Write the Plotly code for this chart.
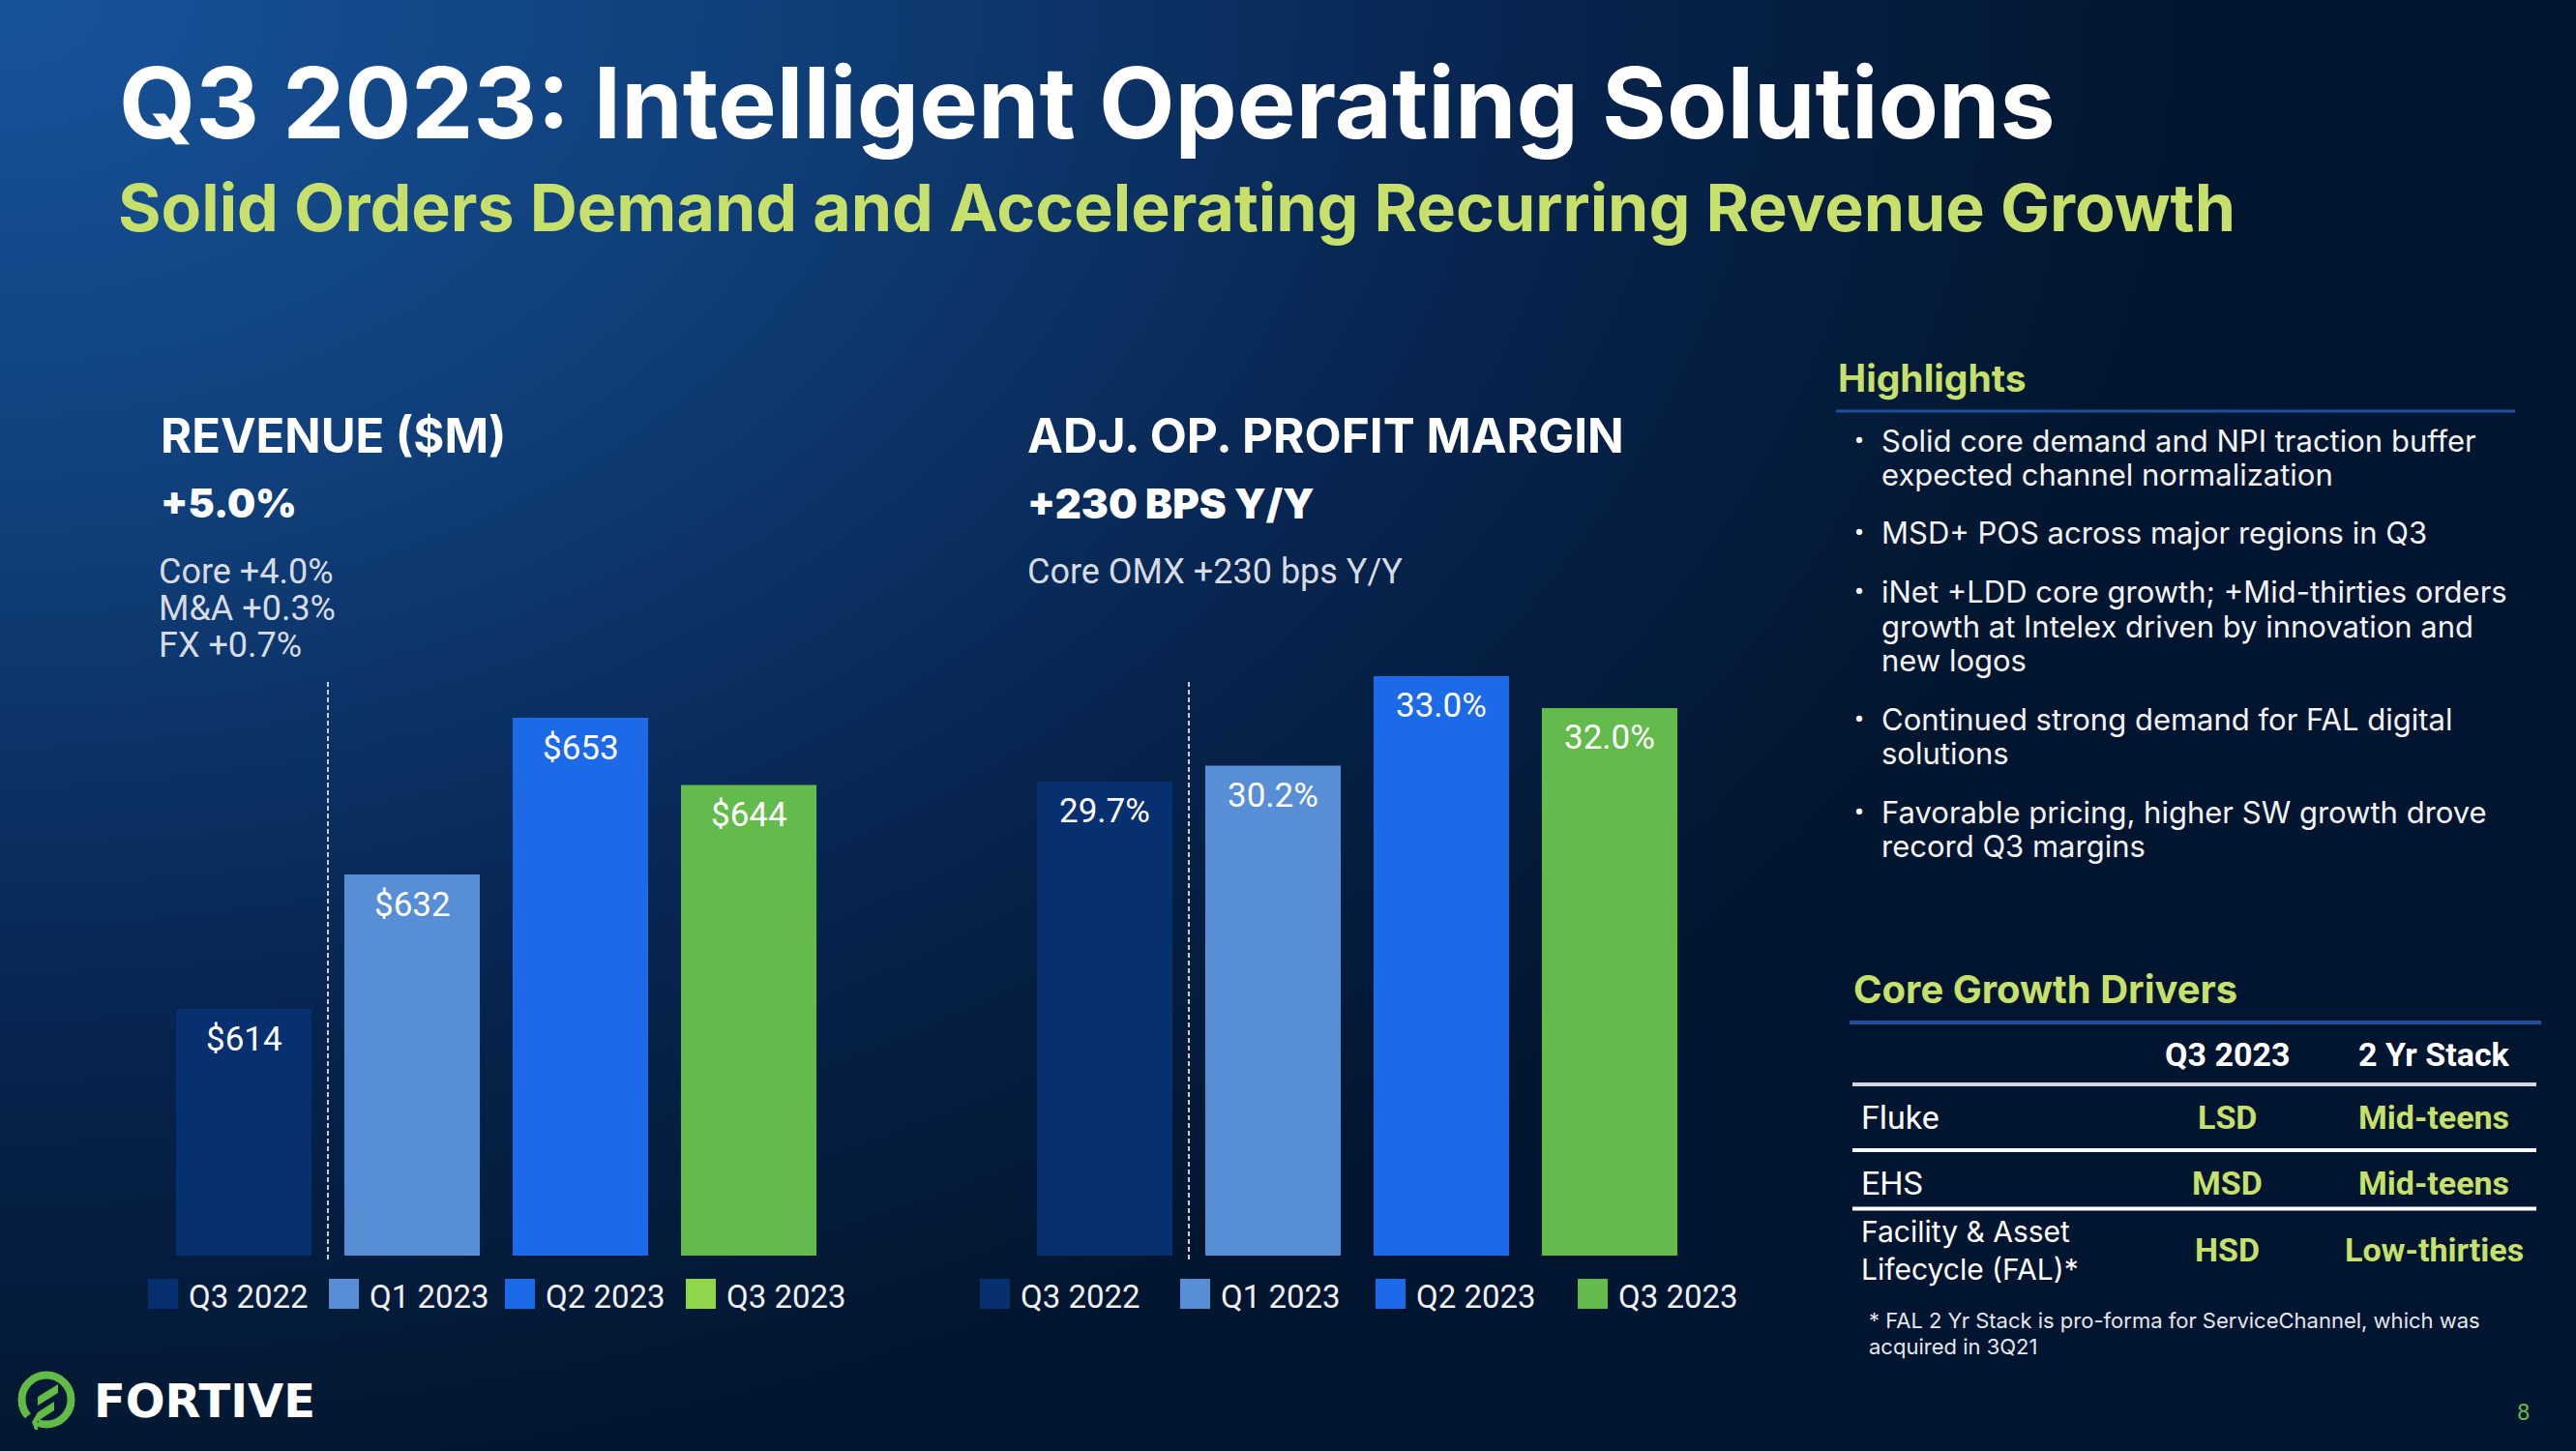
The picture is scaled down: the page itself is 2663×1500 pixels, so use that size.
import base64
import plotly.graph_objects as go

W, H = 2663, 1500

# ---------------- data ----------------
categories = ["Q3 2022", "Q1 2023", "Q2 2023", "Q3 2023"]
revenue = [614, 632, 653, 644]
revenue_labels = ["$614", "$632", "$653", "$644"]
margin = [29.7, 30.2, 33.0, 32.0]
margin_labels = ["29.7%", "30.2%", "33.0%", "32.0%"]

bar_colors = ["#06306F", "#588ED5", "#1C6AE8", "#62BB4A"]
rev_legend_colors = ["#06306F", "#588ED5", "#1C6AE8", "#8FD64B"]
mar_legend_colors = ["#06306F", "#588ED5", "#1C6AE8", "#62BB4A"]

revenue_notes = ["Core +4.0%", "M&amp;A +0.3%", "FX +0.7%"]
margin_notes = ["Core OMX +230 bps Y/Y"]

highlights = [
    ["Solid core demand and NPI traction buffer", "expected channel normalization"],
    ["MSD+ POS across major regions in Q3"],
    ["iNet +LDD core growth; +Mid-thirties orders", "growth at Intelex driven by innovation and", "new logos"],
    ["Continued strong demand for FAL digital", "solutions"],
    ["Favorable pricing, higher SW growth drove", "record Q3 margins"],
]

table_header = ["Q3 2023", "2 Yr Stack"]
table_rows = [
    (["Fluke"], "LSD", "Mid-teens"),
    (["EHS"], "MSD", "Mid-teens"),
    (["Facility &amp; Asset", "Lifecycle (FAL)*"], "HSD", "Low-thirties"),
]
footnote = ["* FAL 2 Yr Stack is pro-forma for ServiceChannel, which was", "acquired in 3Q21"]

WHITE = "#FFFFFF"
GREEN_TXT = "#C6E06B"
GREY_TXT = "#D6DBE4"
FONT = "Roboto"
FONT2 = "Inter"


def X(x):
    return x / W


def Y(y):
    return 1 - y / H


fig = go.Figure()

fig.add_trace(go.Bar(
    x=categories, y=revenue, marker=dict(color=bar_colors, line=dict(width=0)),
    width=0.805, xaxis="x", yaxis="y", hoverinfo="skip", showlegend=False))
fig.add_trace(go.Bar(
    x=categories, y=margin, marker=dict(color=bar_colors, line=dict(width=0)),
    width=0.805, xaxis="x2", yaxis="y2", hoverinfo="skip", showlegend=False))

ann = []
shapes = []


def text(s, x, y, size, color=WHITE, weight=400, anchor="left", family=FONT, align="left"):
    ann.append(dict(text=s, x=X(x), y=Y(y), xref="paper", yref="paper",
                    xanchor=anchor, yanchor="middle", showarrow=False, align=align,
                    font=dict(family=family, size=size, color=color, weight=weight)))


def hline(x0, x1, y, color, width):
    shapes.append(dict(type="line", xref="paper", yref="paper", x0=X(x0), x1=X(x1),
                       y0=Y(y), y1=Y(y), line=dict(color=color, width=width)))


# value labels inside bars (through the axes' scales)
for c, v, lab in zip(categories, revenue, revenue_labels):
    ann.append(dict(text=lab, x=c, y=v, xref="x", yref="y", yanchor="middle", yshift=-31,
                    showarrow=False, font=dict(family=FONT, size=35, color=WHITE)))
for c, v, lab in zip(categories, margin, margin_labels):
    ann.append(dict(text=lab, x=c, y=v, xref="x2", yref="y2", yanchor="middle", yshift=-31,
                    showarrow=False, font=dict(family=FONT, size=35, color=WHITE)))

# dashed separators between Q3 2022 and Q1 2023
for xr in ("x", "x2"):
    shapes.append(dict(type="line", xref=xr, yref="paper", x0=0.5, x1=0.5,
                       y0=Y(1302), y1=Y(702), line=dict(color="#C9CED8", width=2, dash="5px,3px")))

# legends (drawn)
rev_sq = [153, 340, 522, 709]
mar_sq = [1013, 1220, 1422, 1631]
for lefts, cols in ((rev_sq, rev_legend_colors), (mar_sq, mar_legend_colors)):
    for l, col, lab in zip(lefts, cols, categories):
        shapes.append(dict(type="rect", xref="paper", yref="paper", x0=X(l), x1=X(l + 31),
                           y0=Y(1353), y1=Y(1322), fillcolor=col, line=dict(width=0)))
        text(lab, l + 40, 1340, 33, "#EEF1F5")

# titles
text("Q3 2023: Intelligent Operating Solutions", 121, 106, 102, WHITE, 700, family=FONT2)
text("Solid Orders Demand and Accelerating Recurring Revenue Growth", 120, 214, 68, GREEN_TXT, 700,
     family=FONT2)

# chart headings
text("REVENUE ($M)", 164, 450, 49, WHITE, 700, family=FONT2)
text("+5.0%", 164, 520, 41, WHITE, 900, family=FONT2)
for i, s in enumerate(revenue_notes):
    text(s, 162, 591 + i * 38, 36, GREY_TXT)
text("ADJ. OP. PROFIT MARGIN", 1060, 450, 49.5, WHITE, 700, family=FONT2)
text("+230 BPS Y/Y", 1060, 520, 42, WHITE, 900, family=FONT2)
for i, s in enumerate(margin_notes):
    text(s, 1060, 591 + i * 38, 36, GREY_TXT)

# highlights
text("Highlights", 1898, 390, 39, GREEN_TXT, 700, family=FONT2)
hline(1898, 2600, 425, "#1F4F9E", 3)
y = 455
for bullet in highlights:
    text("•", 1915, y, 30, WHITE)
    for j, line in enumerate(bullet):
        text(line, 1943, y, 31, "#F2F4F7", family=FONT2)
        if j < len(bullet) - 1:
            y += 35
    y += 61

# core growth drivers table
text("Core Growth Drivers", 1914, 1022, 40, GREEN_TXT, 700, family=FONT2)
hline(1912, 2627, 1057, "#1F4F9E", 4)
col_x = [2302, 2516]
for cx, h in zip(col_x, table_header):
    text(h, cx, 1090, 34, WHITE, 700, anchor="center")
hline(1915, 2622, 1121, "#D3D6DD", 4)
row_y = [1155, 1223, 1292]
for i, ((labels, v1, v2), ry) in enumerate(zip(table_rows, row_y)):
    if len(labels) == 1:
        text(labels[0], 1922, ry, 34, WHITE)
    else:
        text("<br>".join(labels), 1922, ry, 30, WHITE, family=FONT2)
    text(v1, col_x[0], ry, 34, GREEN_TXT, 700, anchor="center")
    text(v2, col_x[1], ry, 34, GREEN_TXT, 700, anchor="center")
    if i < len(table_rows) - 1:
        hline(1915, 2622, (ry + row_y[i + 1]) / 2 + (0 if i == 0 else -8), WHITE, 4)
for k, s in enumerate(footnote):
    text(s, 1930, 1365 + k * 27, 22, "#E3E7EE", family=FONT2)

# page number
text("8", 2609, 1460, 24, "#62BB46", anchor="center")

# logo
shapes.append(dict(type="circle", xref="paper", yref="paper", x0=X(22.5), x1=X(73.5),
                   y0=Y(1472.5), y1=Y(1421.5), line=dict(color="#62BB46", width=8)))


def path(pts):
    return "M " + " L ".join(f"{X(a)},{Y(b)}" for a, b in pts) + " Z"


shapes.append(dict(type="path", xref="paper", yref="paper",
                   path=path([(26, 1466), (36, 1458), (40, 1470), (30, 1478)]),
                   fillcolor="#021532", line=dict(width=0)))
shapes.append(dict(type="path", xref="paper", yref="paper",
                   path=path([(39, 1444), (60, 1431), (60, 1440), (39, 1453)]),
                   fillcolor="#62BB46", line=dict(width=0)))
shapes.append(dict(type="path", xref="paper", yref="paper",
                   path=path([(39, 1460), (56, 1449), (56, 1458), (39, 1469)]),
                   fillcolor="#62BB46", line=dict(width=0)))
shapes.append(dict(type="path", xref="paper", yref="paper",
                   path=path([(33, 1470), (39, 1460), (39, 1478), (36, 1478)]),
                   fillcolor="#62BB46", line=dict(width=0)))
text("FORTIVE", 95, 1448, 48, WHITE, 700, family="DejaVu Sans")

# background gradient
svg = (
    '<svg xmlns="http://www.w3.org/2000/svg" width="2663" height="1500" viewBox="0 0 2663 1500" '
    'preserveAspectRatio="none"><defs>'
    '<radialGradient id="g" gradientUnits="userSpaceOnUse" cx="0" cy="0" r="1" '
    'gradientTransform="scale(2500 1700)">'
    '<stop offset="0" stop-color="#17539A"/>'
    '<stop offset="0.3" stop-color="#10407C"/>'
    '<stop offset="0.62" stop-color="#072550"/>'
    '<stop offset="0.9" stop-color="#02162F"/>'
    '<stop offset="1" stop-color="#011430"/>'
    '</radialGradient></defs>'
    '<rect width="2663" height="1500" fill="url(#g)"/></svg>'
)
bg = "data:image/svg+xml;base64," + base64.b64encode(svg.encode()).decode()

fig.update_layout(
    width=W, height=H,
    margin=dict(l=0, r=0, t=0, b=0),
    paper_bgcolor="#011430",
    plot_bgcolor="rgba(0,0,0,0)",
    showlegend=False,
    bargap=0.2,
    xaxis=dict(domain=[X(165), X(861)], range=[-0.5, 3.5], visible=False, type="category",
               fixedrange=True),
    yaxis=dict(domain=[Y(1298), Y(690)], range=[580.96, 659.74], visible=False, fixedrange=True),
    xaxis2=dict(domain=[X(1055), X(1751)], range=[-0.5, 3.5], visible=False, type="category",
                anchor="y2", fixedrange=True),
    yaxis2=dict(domain=[Y(1298), Y(690)], range=[14.865, 33.27], visible=False, anchor="x2",
                fixedrange=True),
    annotations=ann,
    shapes=shapes,
    images=[dict(source=bg, xref="paper", yref="paper", x=0, y=1, sizex=1, sizey=1,
                 xanchor="left", yanchor="top", sizing="stretch", layer="below")],
)

fig.write_html("out.html", config={"displayModeBar": False})
